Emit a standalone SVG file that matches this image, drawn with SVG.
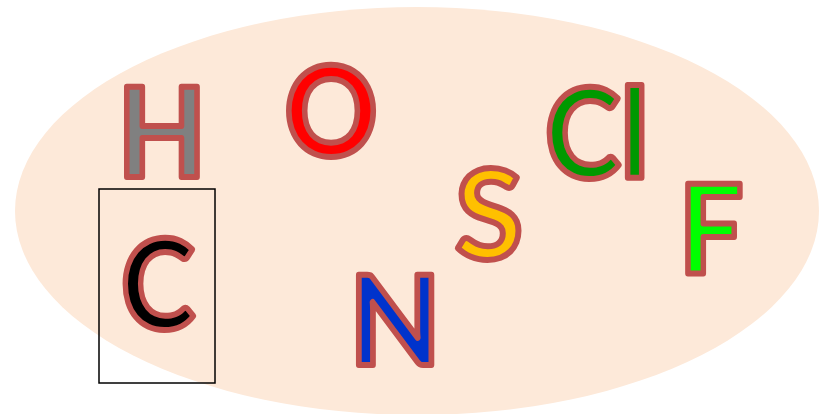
<svg xmlns="http://www.w3.org/2000/svg" width="819" height="414" viewBox="0 0 819 414">
<style>
.el{font-family:Lato,"Open Sans",sans-serif;font-weight:bold;font-size:124px;stroke:#C0504D;stroke-width:6px;stroke-linejoin:round;text-anchor:middle}
</style>
<rect width="819" height="414" fill="#FFFFFF"/>
<ellipse cx="417" cy="211" rx="402" ry="204" fill="#FDE9D9"/>
<g id="node-H"><text class="el" transform="translate(162 177) scale(0.93 1)" fill="#808080">H</text></g>
<g id="node-O"><text class="el" transform="translate(331 156) scale(0.93 1)" fill="#FF0000">O</text></g>
<g id="node-C"><rect x="99" y="189" width="116" height="194" fill="none" stroke="#000000" stroke-width="1.5"/><text class="el" transform="translate(158 329) scale(0.9 1)" fill="#000000">C</text></g>
<g id="node-N"><text class="el" transform="translate(395 365) scale(0.96 1)" fill="#0033CC">N</text></g>
<g id="node-S"><text class="el" x="489" y="259" fill="#FFC000">S</text></g>
<g id="node-Cl"><text class="el" transform="translate(597 178) scale(0.92 1)" fill="#009900">Cl</text></g>
<g id="node-F"><text class="el" transform="translate(711 274) scale(0.92 1)" fill="#00FF00">F</text></g>
<g id="connectors"></g>
</svg>
